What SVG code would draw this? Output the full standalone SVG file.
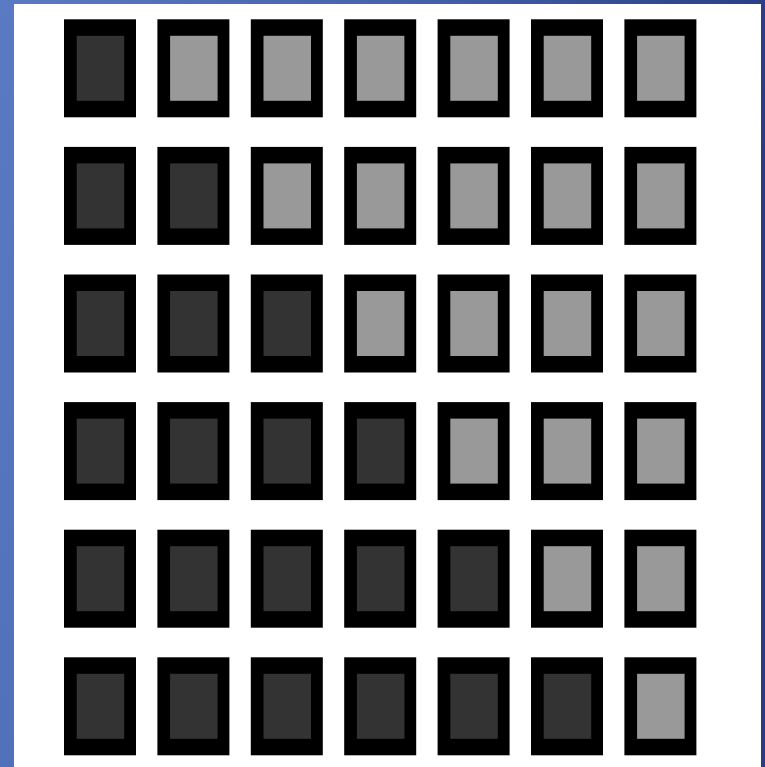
<svg xmlns="http://www.w3.org/2000/svg" width="765" height="767" viewBox="0 0 765 767">
<defs>
<linearGradient id="bg" x1="0" y1="0" x2="1" y2="0.2">
<stop offset="0" stop-color="#5a7ac4"/>
<stop offset="0.5" stop-color="#4563ad"/>
<stop offset="1" stop-color="#283c82"/>
</linearGradient>
<style>
.frame{fill:#000000;}
.dark{fill:#333333;}
.light{fill:#999999;}
</style>
</defs>
<rect x="0" y="0" width="765" height="767" fill="url(#bg)"/>
<rect x="14" y="4" width="747" height="763" fill="#ffffff"/>
<g id="cells">
<g id="r0">
<g id="c0_0"><rect class="frame" x="64" y="19.3" width="72" height="98"/><rect class="dark" x="76.7" y="35.8" width="47.5" height="65"/></g>
<g id="c0_1"><rect class="frame" x="157.4" y="19.3" width="72" height="98"/><rect class="light" x="170.1" y="35.8" width="47.5" height="65"/></g>
<g id="c0_2"><rect class="frame" x="250.8" y="19.3" width="72" height="98"/><rect class="light" x="263.5" y="35.8" width="47.5" height="65"/></g>
<g id="c0_3"><rect class="frame" x="344.2" y="19.3" width="72" height="98"/><rect class="light" x="356.9" y="35.8" width="47.5" height="65"/></g>
<g id="c0_4"><rect class="frame" x="437.6" y="19.3" width="72" height="98"/><rect class="light" x="450.3" y="35.8" width="47.5" height="65"/></g>
<g id="c0_5"><rect class="frame" x="531" y="19.3" width="72" height="98"/><rect class="light" x="543.7" y="35.8" width="47.5" height="65"/></g>
<g id="c0_6"><rect class="frame" x="624.4" y="19.3" width="72" height="98"/><rect class="light" x="637.1" y="35.8" width="47.5" height="65"/></g>
</g>
<g id="r1">
<g id="c1_0"><rect class="frame" x="64" y="146.9" width="72" height="98"/><rect class="dark" x="76.7" y="163.4" width="47.5" height="65"/></g>
<g id="c1_1"><rect class="frame" x="157.4" y="146.9" width="72" height="98"/><rect class="dark" x="170.1" y="163.4" width="47.5" height="65"/></g>
<g id="c1_2"><rect class="frame" x="250.8" y="146.9" width="72" height="98"/><rect class="light" x="263.5" y="163.4" width="47.5" height="65"/></g>
<g id="c1_3"><rect class="frame" x="344.2" y="146.9" width="72" height="98"/><rect class="light" x="356.9" y="163.4" width="47.5" height="65"/></g>
<g id="c1_4"><rect class="frame" x="437.6" y="146.9" width="72" height="98"/><rect class="light" x="450.3" y="163.4" width="47.5" height="65"/></g>
<g id="c1_5"><rect class="frame" x="531" y="146.9" width="72" height="98"/><rect class="light" x="543.7" y="163.4" width="47.5" height="65"/></g>
<g id="c1_6"><rect class="frame" x="624.4" y="146.9" width="72" height="98"/><rect class="light" x="637.1" y="163.4" width="47.5" height="65"/></g>
</g>
<g id="r2">
<g id="c2_0"><rect class="frame" x="64" y="274.5" width="72" height="98"/><rect class="dark" x="76.7" y="291" width="47.5" height="65"/></g>
<g id="c2_1"><rect class="frame" x="157.4" y="274.5" width="72" height="98"/><rect class="dark" x="170.1" y="291" width="47.5" height="65"/></g>
<g id="c2_2"><rect class="frame" x="250.8" y="274.5" width="72" height="98"/><rect class="dark" x="263.5" y="291" width="47.5" height="65"/></g>
<g id="c2_3"><rect class="frame" x="344.2" y="274.5" width="72" height="98"/><rect class="light" x="356.9" y="291" width="47.5" height="65"/></g>
<g id="c2_4"><rect class="frame" x="437.6" y="274.5" width="72" height="98"/><rect class="light" x="450.3" y="291" width="47.5" height="65"/></g>
<g id="c2_5"><rect class="frame" x="531" y="274.5" width="72" height="98"/><rect class="light" x="543.7" y="291" width="47.5" height="65"/></g>
<g id="c2_6"><rect class="frame" x="624.4" y="274.5" width="72" height="98"/><rect class="light" x="637.1" y="291" width="47.5" height="65"/></g>
</g>
<g id="r3">
<g id="c3_0"><rect class="frame" x="64" y="402.1" width="72" height="98"/><rect class="dark" x="76.7" y="418.6" width="47.5" height="65"/></g>
<g id="c3_1"><rect class="frame" x="157.4" y="402.1" width="72" height="98"/><rect class="dark" x="170.1" y="418.6" width="47.5" height="65"/></g>
<g id="c3_2"><rect class="frame" x="250.8" y="402.1" width="72" height="98"/><rect class="dark" x="263.5" y="418.6" width="47.5" height="65"/></g>
<g id="c3_3"><rect class="frame" x="344.2" y="402.1" width="72" height="98"/><rect class="dark" x="356.9" y="418.6" width="47.5" height="65"/></g>
<g id="c3_4"><rect class="frame" x="437.6" y="402.1" width="72" height="98"/><rect class="light" x="450.3" y="418.6" width="47.5" height="65"/></g>
<g id="c3_5"><rect class="frame" x="531" y="402.1" width="72" height="98"/><rect class="light" x="543.7" y="418.6" width="47.5" height="65"/></g>
<g id="c3_6"><rect class="frame" x="624.4" y="402.1" width="72" height="98"/><rect class="light" x="637.1" y="418.6" width="47.5" height="65"/></g>
</g>
<g id="r4">
<g id="c4_0"><rect class="frame" x="64" y="529.7" width="72" height="98"/><rect class="dark" x="76.7" y="546.2" width="47.5" height="65"/></g>
<g id="c4_1"><rect class="frame" x="157.4" y="529.7" width="72" height="98"/><rect class="dark" x="170.1" y="546.2" width="47.5" height="65"/></g>
<g id="c4_2"><rect class="frame" x="250.8" y="529.7" width="72" height="98"/><rect class="dark" x="263.5" y="546.2" width="47.5" height="65"/></g>
<g id="c4_3"><rect class="frame" x="344.2" y="529.7" width="72" height="98"/><rect class="dark" x="356.9" y="546.2" width="47.5" height="65"/></g>
<g id="c4_4"><rect class="frame" x="437.6" y="529.7" width="72" height="98"/><rect class="dark" x="450.3" y="546.2" width="47.5" height="65"/></g>
<g id="c4_5"><rect class="frame" x="531" y="529.7" width="72" height="98"/><rect class="light" x="543.7" y="546.2" width="47.5" height="65"/></g>
<g id="c4_6"><rect class="frame" x="624.4" y="529.7" width="72" height="98"/><rect class="light" x="637.1" y="546.2" width="47.5" height="65"/></g>
</g>
<g id="r5">
<g id="c5_0"><rect class="frame" x="64" y="657.3" width="72" height="98"/><rect class="dark" x="76.7" y="673.8" width="47.5" height="65"/></g>
<g id="c5_1"><rect class="frame" x="157.4" y="657.3" width="72" height="98"/><rect class="dark" x="170.1" y="673.8" width="47.5" height="65"/></g>
<g id="c5_2"><rect class="frame" x="250.8" y="657.3" width="72" height="98"/><rect class="dark" x="263.5" y="673.8" width="47.5" height="65"/></g>
<g id="c5_3"><rect class="frame" x="344.2" y="657.3" width="72" height="98"/><rect class="dark" x="356.9" y="673.8" width="47.5" height="65"/></g>
<g id="c5_4"><rect class="frame" x="437.6" y="657.3" width="72" height="98"/><rect class="dark" x="450.3" y="673.8" width="47.5" height="65"/></g>
<g id="c5_5"><rect class="frame" x="531" y="657.3" width="72" height="98"/><rect class="dark" x="543.7" y="673.8" width="47.5" height="65"/></g>
<g id="c5_6"><rect class="frame" x="624.4" y="657.3" width="72" height="98"/><rect class="light" x="637.1" y="673.8" width="47.5" height="65"/></g>
</g>
</g>
<g id="connectors"/>
</svg>
